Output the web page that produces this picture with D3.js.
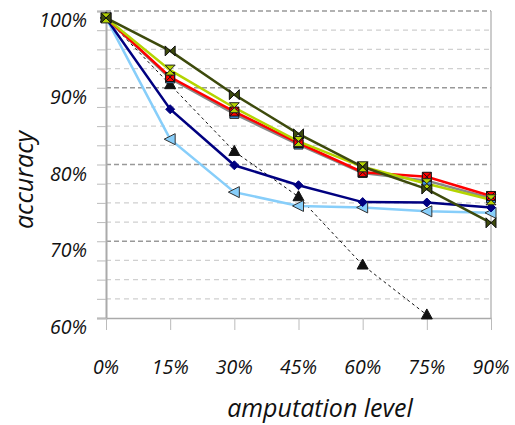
<!DOCTYPE html>
<html>
<head>
<meta charset="utf-8">
<script src="https://cdn.jsdelivr.net/npm/d3@7"></script>
<style>
  body { margin: 0; background: #fff; }
  svg text { font-family: "Open Sans", "Noto Sans", sans-serif; font-style: italic; fill: #111; }
</style>
</head>
<body>
<div id="chart"></div>
<script>
const levels = ["0%", "15%", "30%", "45%", "60%", "75%", "90%"];
const yTicks = [60, 70, 80, 90, 100];

const olive = [99.1, 94.8, 89.1, 84.0, 79.7, 76.8, 72.4];
const red = [99.1, 91.4, 86.9, 82.8, 79.0, 78.4, 75.9];
const grey = [99.1, 91.2, 86.6, 82.6, 78.9, 77.9, 75.6];
const lime = [99.1, 92.3, 87.4, 83.0, 79.7, 77.5, 75.4];
const navy = [99.1, 87.2, 79.9, 77.3, 75.1, 75.05, 74.4];
const skyblue = [99.1, 83.3, 76.4, 74.6, 74.4, 73.9, 73.7];
const dashed = [99.1, 90.4, 81.7, 75.8, 66.9, 60.4];

const width = 515, height = 425;
const plotLeft = 106, plotRight = 491, plotTop = 11, plotBottom = 318;

const svg = d3.select("#chart").append("svg")
  .attr("width", width)
  .attr("height", height);

const x = d3.scalePoint().domain(levels).range([plotLeft, plotRight]);
const y = d3.scaleLinear().domain([60, 100]).range([plotBottom, plotTop]);

// gridlines every 2.5%
const minor = d3.range(62.5, 100, 2.5).filter(v => v % 10 !== 0);
svg.append("g").selectAll("line")
  .data(minor)
  .enter().append("line")
  .attr("x1", plotLeft).attr("x2", plotRight)
  .attr("y1", d => y(d)).attr("y2", d => y(d))
  .attr("stroke", "#d0d0d0")
  .attr("stroke-width", 1.2)
  .attr("stroke-dasharray", "5,4");

svg.append("g").selectAll("line")
  .data([70, 80, 90, 100])
  .enter().append("line")
  .attr("x1", plotLeft).attr("x2", plotRight)
  .attr("y1", d => y(d)).attr("y2", d => y(d))
  .attr("stroke", "#999")
  .attr("stroke-width", 1.5)
  .attr("stroke-dasharray", "5,3");

// right border
svg.append("line")
  .attr("x1", plotRight).attr("x2", plotRight)
  .attr("y1", plotTop).attr("y2", plotBottom)
  .attr("stroke", "#bbb").attr("stroke-width", 1.5);

// y axis
const yAxis = svg.append("g")
  .attr("transform", `translate(${plotLeft},0)`)
  .call(d3.axisLeft(y).tickValues(d3.range(60, 100.1, 2.5)).tickSize(9).tickFormat(""));
yAxis.select(".domain").attr("stroke", "#aaa").attr("stroke-width", 2);
yAxis.selectAll(".tick line").attr("stroke", "#bbb");

svg.append("g").selectAll("text")
  .data(yTicks)
  .enter().append("text")
  .attr("x", 87)
  .attr("y", d => y(d) + 16)
  .attr("text-anchor", "end")
  .style("font-size", "19.5px")
  .text(d => d + "%");

// x axis
const xAxis = svg.append("g")
  .attr("transform", `translate(0,${plotBottom})`)
  .call(d3.axisBottom(x).tickSize(12).tickSizeOuter(0).tickFormat(""));
xAxis.select(".domain").attr("stroke", "#aaa").attr("stroke-width", 1.5);
xAxis.selectAll(".tick line").attr("stroke", "#bbb");

svg.append("g").selectAll("text")
  .data(levels)
  .enter().append("text")
  .attr("x", d => x(d))
  .attr("y", 374)
  .attr("text-anchor", "middle")
  .style("font-size", "19.5px")
  .text(d => d);

svg.append("text")
  .attr("x", 320).attr("y", 417)
  .attr("text-anchor", "middle")
  .style("font-size", "25px")
  .text("amputation level");

svg.append("text")
  .attr("transform", "translate(33,180) rotate(-90)")
  .attr("text-anchor", "middle")
  .style("font-size", "25px")
  .text("accuracy");

// series
const shapes = {
  square: "M-4.5,-4.5H4.5V4.5H-4.5Z",
  squareX: "M-4.5,-4.5H4.5V4.5H-4.5Z M-4.5,-4.5L4.5,4.5 M4.5,-4.5L-4.5,4.5",
  bowtie: "M-5,-5L5,5V-5L-5,5Z",
  hourglass: "M-5,-5H5L-5,5H5Z",
  diamond: "M0,-4.5L4.5,0L0,4.5L-4.5,0Z",
  leftTri: "M-6,0L5,-5.5V5.5Z",
  upTri: "M0,-6L5.5,4H-5.5Z"
};

const series = [
  { values: dashed, color: "#111", width: 1, dash: "3,3", shape: "upTri", fill: "#111", stroke: "#111" },
  { values: skyblue, color: "#87cefa", width: 2.5, shape: "leftTri", fill: "#87cefa", stroke: "#333" },
  { values: navy, color: "#000080", width: 2.5, shape: "diamond", fill: "#000080", stroke: "#000080" },
  { values: grey, color: "#888", width: 2.5, shape: "square", fill: "#3a8fd8", stroke: "#222" },
  { values: red, color: "#ff0000", width: 2.5, shape: "squareX", fill: "#ff0000", stroke: "#111" },
  { values: lime, color: "#b4d400", width: 2.5, shape: "hourglass", fill: "#b4d400", stroke: "#222" },
  { values: olive, color: "#3d4a0c", width: 2.5, shape: "bowtie", fill: "#3d4a0c", stroke: "#111" }
];

const line = d3.line()
  .x((d, i) => x(levels[i]))
  .y(d => y(d));

series.forEach(s => {
  svg.append("path")
    .datum(s.values)
    .attr("d", line)
    .attr("fill", "none")
    .attr("stroke", s.color)
    .attr("stroke-width", s.width)
    .attr("stroke-dasharray", s.dash || null);
});

series.forEach(s => {
  svg.append("g").selectAll("path")
    .data(s.values)
    .enter().append("path")
    .attr("transform", (d, i) => `translate(${x(levels[i])},${y(d)})`)
    .attr("d", shapes[s.shape])
    .attr("fill", s.fill)
    .attr("stroke", s.stroke)
    .attr("stroke-width", 1);
});
</script>
</body>
</html>
